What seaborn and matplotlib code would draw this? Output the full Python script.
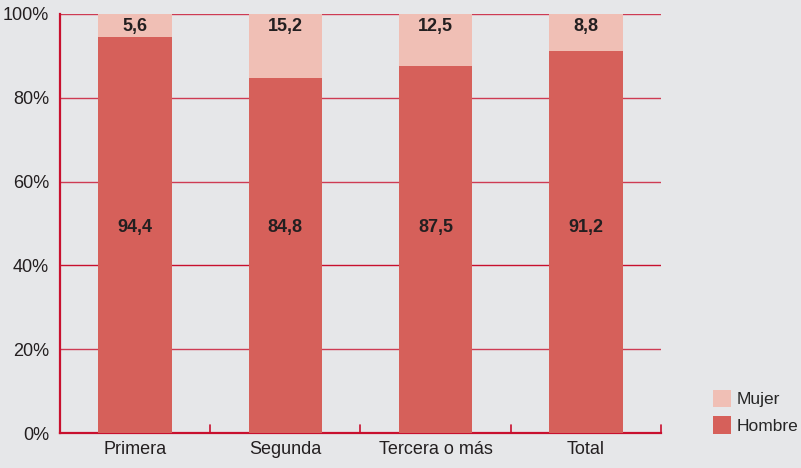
import numpy as np
import pandas as pd
import matplotlib.pyplot as plt
import seaborn as sns
from matplotlib.patches import Patch

# Data
categorias = ['Primera', 'Segunda', 'Tercera o más', 'Total']
hombre = [94.4, 84.8, 87.5, 91.2]
mujer = [5.6, 15.2, 12.5, 8.8]

df = pd.DataFrame({'cat': categorias, 'Hombre': hombre, 'Mujer': mujer})
df['Total'] = df['Hombre'] + df['Mujer']

sns.set_theme(style='white')
plt.rcParams['font.family'] = ['Liberation Sans', 'DejaVu Sans']

bg = '#e6e7e9'
c_h = '#d6605a'
c_m = '#f0bfb5'
red = '#c8102e'
txt = '#231f20'

fig = plt.figure(figsize=(8.01, 4.68), dpi=100, facecolor=bg)
ax = fig.add_axes([60 / 801, 35 / 468, 601 / 801, 419 / 468], facecolor=bg)

# gridlines
for v in [20, 40, 60, 80, 100]:
    ax.axhline(v, color=red, lw=1.0, alpha=0.8 if v != 40 else 1, zorder=0)

# stacked bars: full height in Mujer colour, Hombre on top of it
sns.barplot(data=df, x='cat', y='Total', color=c_m, width=0.49, saturation=1,
            linewidth=0, ax=ax, zorder=2)
sns.barplot(data=df, x='cat', y='Hombre', color=c_h, width=0.49, saturation=1,
            linewidth=0, ax=ax, zorder=3)

for i in range(len(categorias)):
    ax.text(i, 49, f'{hombre[i]:.1f}'.replace('.', ','), ha='center', va='center',
            fontsize=13, fontweight='bold', color=txt, zorder=4)
    ax.text(i, 97, f'{mujer[i]:.1f}'.replace('.', ','), ha='center', va='center',
            fontsize=13, fontweight='bold', color=txt, zorder=4)

ax.set_xlim(-0.5, len(categorias) - 0.5)
ax.set_ylim(0, 100)
ax.set_yticks([0, 20, 40, 60, 80, 100])
ax.set_yticklabels(['0%', '20%', '40%', '60%', '80%', '100%'])
ax.set_xlabel('')
ax.set_ylabel('')
ax.tick_params(axis='y', length=0, labelsize=13, colors=txt, pad=8)
ax.tick_params(axis='x', length=0, labelsize=13, colors=txt, pad=6)

for s in ['top', 'right']:
    ax.spines[s].set_visible(False)
for s in ['left', 'bottom']:
    ax.spines[s].set_color(red)
    ax.spines[s].set_linewidth(1.6)

# small separators between categories on the bottom axis
for b in np.arange(0.5, len(categorias), 1):
    ax.plot([b, b], [0, 1.8], color=red, lw=1.2, clip_on=False, zorder=5)

handles = [Patch(facecolor=c_m, edgecolor='none', label='Mujer'),
           Patch(facecolor=c_h, edgecolor='none', label='Hombre')]
fig.legend(handles=handles, loc='lower left', bbox_to_anchor=(701 / 801, 22 / 468),
           frameon=False, fontsize=12.5, handlelength=1.0, handleheight=1.2,
           handletextpad=0.35, labelspacing=0.5, borderpad=0.2)

fig.savefig('out.png', dpi=100, facecolor=bg)
